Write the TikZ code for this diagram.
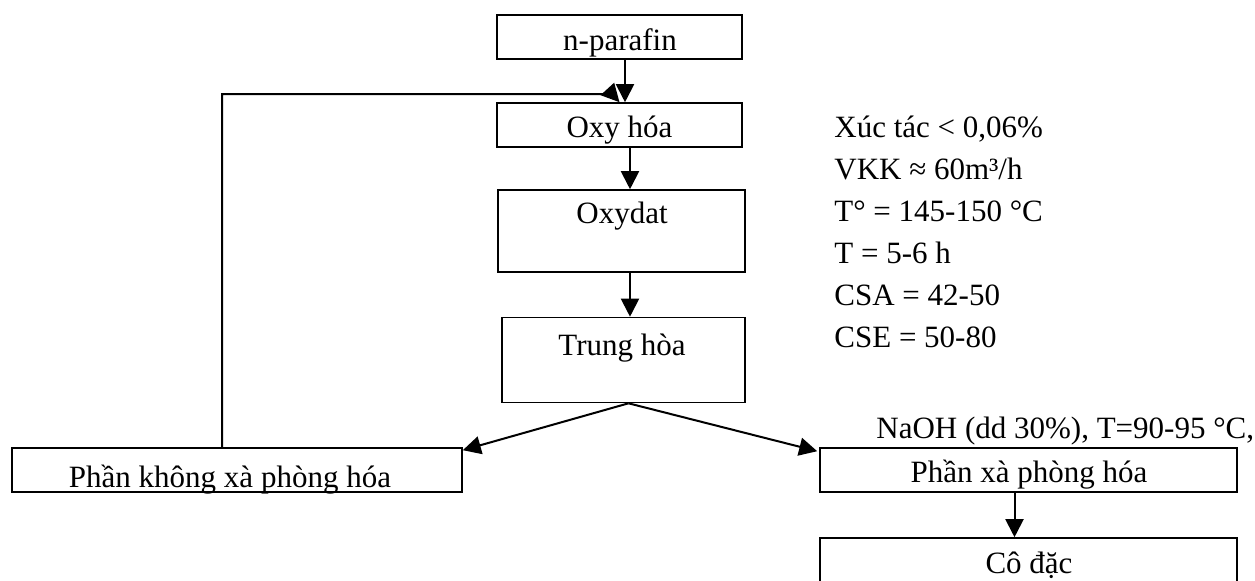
\documentclass[tikz,border=0pt]{standalone}
\usepackage{fontspec}
\setmainfont{Liberation Serif}
\usetikzlibrary{arrows.meta}
\begin{document}
\begin{tikzpicture}[x=0.5pt,y=-0.5pt,
  box/.style={draw, line width=0.8pt, inner sep=0pt},
  txt/.style={font=\fontsize{15.5}{18}\selectfont, inner sep=0pt, anchor=base},
  ptxt/.style={txt, anchor=base west},
  arr/.style={line width=1pt, -{Triangle[length=9pt,width=9pt]}},
  ln/.style={line width=1pt}]
\useasboundingbox (0,0) rectangle (1255,580);
\clip (0,0) rectangle (1255,580);
% boxes
\node[box, minimum width=122.5pt, minimum height=22pt] (npar) at (619.5,37) {};
\node[box, minimum width=122.5pt, minimum height=22pt] (oxy) at (619.5,125) {};
\node[box, minimum width=123.5pt, minimum height=41pt] (oxd) at (621.5,231) {};
\node[box, minimum width=121.5pt, minimum height=42.5pt] (trh) at (623.5,360) {};
\node[box, minimum width=225pt, minimum height=22pt] (lb) at (237,470) {};
\node[box, minimum width=208.5pt, minimum height=22pt] (rb) at (1028.5,470) {};
\node[box, minimum width=208.5pt, minimum height=31pt] (cd) at (1028.5,569) {};
% box texts
\node[txt] (tnpar) at (620,50) {n-parafin};
\node[txt] (toxy) at (619.5,137) {Oxy hóa};
\node[txt] (toxd) at (622,223) {Oxydat};
\node[txt] (ttrh) at (622,355) {Trung hòa};
\node[txt] (tlb) at (230,487) {Phần không xà phòng hóa};
\node[txt] (trb) at (1029,482) {Phần xà phòng hóa};
\node[txt] (tcd) at (1029,573) {Cô đặc};
% conditions
\node[ptxt] (c1) at (834,137) {Xúc tác < 0,06\%};
\node[ptxt] (c2) at (834,179) {VKK ≈ 60m³/h};
\node[ptxt] (c3) at (834,221) {T° = 145-150 °C};
\node[ptxt] (c4) at (834,263) {T = 5-6 h};
\node[ptxt] (c5) at (834,305) {CSA = 42-50};
\node[ptxt] (c6) at (834,347) {CSE = 50-80};
\node[ptxt] (naoh) at (876,438) {NaOH (dd 30\%), T=90-95 °C,};
% connectors
\draw[arr] ([xshift=2.75pt]npar.south) -- ([xshift=2.75pt]npar.south |- oxy.north);
\draw[arr] ([xshift=5.25pt]oxy.south) -- ([xshift=5.25pt]oxy.south |- oxd.north);
\draw[arr] ([xshift=4.25pt]oxd.south) -- ([xshift=4.25pt]oxd.south |- trh.north);
\coordinate (sp) at ([xshift=2.5pt]trh.south);
\draw[arr] (sp) -- ([yshift=-1.5pt]lb.north east);
\draw[arr] (sp) -- ([xshift=-1pt,yshift=-2pt]rb.north west);
\coordinate (fb) at (612,94);
\draw[arr] ([xshift=-7.5pt]lb.north) |- (fb) -- (oxy.north);
\draw[arr] ([xshift=-7pt]rb.south) -- ([xshift=-7pt]rb.south |- cd.north);
\end{tikzpicture}
\end{document}
